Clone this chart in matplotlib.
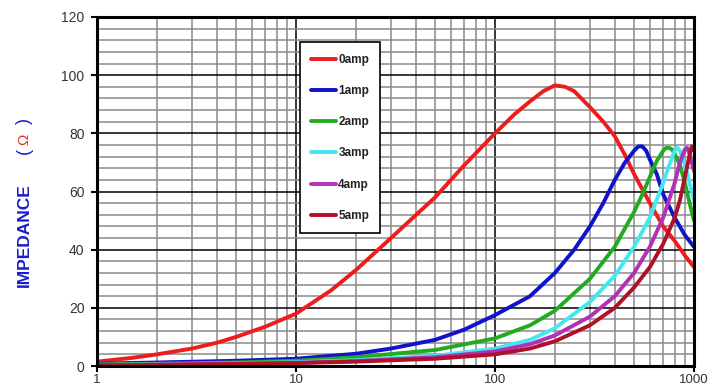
import numpy as np
import matplotlib.pyplot as plt
from matplotlib.ticker import MultipleLocator, LogLocator, FixedFormatter, FixedLocator

# frequency (log axis) and impedance readings for each current
f_0 = [1, 1.5, 2, 3, 4, 5, 7, 10, 15, 20, 30, 50, 70, 100, 125, 150, 175, 200, 225, 250, 300, 350, 400, 450, 500, 600, 700, 800, 900, 1000]
z_0 = [1.5, 2.8, 4, 6, 8, 10, 13.5, 18, 26, 33, 44, 58, 69, 80, 86.5, 91, 94.5, 96.5, 96, 94.5, 89, 84, 79, 72.5, 66, 56, 48, 43, 38, 34]

f_1 = [1, 2, 5, 10, 20, 30, 50, 70, 100, 150, 200, 250, 300, 350, 400, 450, 500, 525, 550, 575, 600, 650, 700, 800, 900, 1000]
z_1 = [0.8, 1.2, 1.8, 2.5, 4.2, 6, 9, 12.5, 17.5, 24, 32, 40, 48, 56, 64, 70, 74, 75.5, 75.5, 74, 71, 66, 59, 51, 45, 41]

f_2 = [1, 2, 5, 10, 20, 50, 100, 150, 200, 300, 400, 500, 550, 600, 650, 700, 725, 750, 775, 800, 850, 900, 950, 1000]
z_2 = [0.5, 0.8, 1.2, 1.8, 3, 5.5, 9.5, 14, 19, 30, 41, 53, 59, 65, 70.5, 74, 75, 75, 74.5, 73, 69, 63, 56, 50]

f_3 = [1, 2, 5, 10, 20, 50, 100, 150, 200, 300, 400, 500, 600, 700, 750, 800, 825, 850, 900, 950, 1000]
z_3 = [0.4, 0.6, 0.9, 1.3, 2, 3.5, 6, 9, 13, 22, 31, 41, 51, 63, 69, 74, 75, 74, 69, 63, 57]

f_4 = [1, 2, 5, 10, 20, 50, 100, 150, 200, 300, 400, 500, 600, 700, 800, 850, 900, 925, 950, 1000]
z_4 = [0.3, 0.5, 0.8, 1.1, 1.7, 3, 5, 7.5, 10.5, 17, 24, 32, 41, 51, 63, 70, 74.5, 75, 73, 67]

f_5 = [1, 2, 5, 10, 20, 50, 100, 150, 200, 300, 400, 500, 600, 700, 800, 850, 900, 950, 975, 1000]
z_5 = [0.2, 0.4, 0.7, 1, 1.5, 2.5, 4, 6, 8.5, 14, 20, 27, 34, 42, 51, 57, 65, 72.5, 75.5, 74]

series = [(f_0, z_0, '0amp', '#ee1c1c'),
          (f_1, z_1, '1amp', '#1212c8'),
          (f_2, z_2, '2amp', '#22aa22'),
          (f_3, z_3, '3amp', '#44e8f0'),
          (f_4, z_4, '4amp', '#b030b8'),
          (f_5, z_5, '5amp', '#b0102a')]

fig = plt.figure(figsize=(7.11, 3.91), dpi=100)
ax = fig.add_axes([97/711, 25/391, 597/711, 349/391])

for f, z, lab, col in series:
    ax.plot(f, z, color=col, lw=2.8, label=lab, solid_capstyle='round',
            solid_joinstyle='round')

ax.set_xscale('log')
ax.set_xlim(1, 1000)
ax.set_ylim(0, 120)

ax.yaxis.set_major_locator(MultipleLocator(20))
ax.yaxis.set_minor_locator(MultipleLocator(4))
ax.xaxis.set_major_locator(FixedLocator([1, 10, 100, 1000]))
ax.xaxis.set_major_formatter(FixedFormatter(['1', '10', '100', '1000']))
ax.xaxis.set_minor_locator(LogLocator(base=10, subs=np.arange(2, 10)))
ax.xaxis.set_minor_formatter(FixedFormatter([]))

ax.grid(which='minor', color='#8a8a8a', lw=1.1)
ax.grid(which='major', color='black', lw=1.1)
ax.set_axisbelow(True)

for s in ax.spines.values():
    s.set_linewidth(2.2)
    s.set_color('black')

ax.tick_params(which='major', length=4, width=1.5, direction='out', pad=5,
               labelsize=10, labelcolor='#333333')
ax.tick_params(axis='x', which='major', pad=2, labelsize=9.5)
ax.tick_params(axis='x', which='minor', length=0)
ax.tick_params(axis='y', which='minor', length=0)
for t in ax.get_xticklabels() + ax.get_yticklabels():
    t.set_family('Liberation Sans')

leg = ax.legend(loc='upper left', bbox_to_anchor=(0.340, 0.927), fancybox=False,
                framealpha=1, edgecolor='black', handlelength=2.1, handletextpad=0.2,
                labelspacing=1.63, borderpad=0.95, borderaxespad=0,
                prop={'family': 'Liberation Sans', 'weight': 'bold', 'size': 8.5})
leg.get_frame().set_linewidth(1.2)
for t in leg.get_texts():
    t.set_color('#222222')

# y label, blue words with a red Omega
fig.text(24/711, 1 - 235/391, 'IMPEDANCE', rotation=90, ha='center', va='center',
         color='#1a1ad0', fontsize=12.5, fontweight='bold', family='Liberation Sans')
fig.text(24/711, 1 - 151/391, '(', rotation=90, ha='center', va='center',
         color='#1a1ad0', fontsize=13, family='Liberation Sans')
fig.text(24/711, 1 - 139/391, 'Ω', rotation=90, ha='center', va='center',
         color='#e03020', fontsize=11, family='Liberation Sans')
fig.text(24/711, 1 - 121/391, ')', rotation=90, ha='center', va='center',
         color='#1a1ad0', fontsize=13, family='Liberation Sans')

fig.savefig('out.png', dpi=100)
